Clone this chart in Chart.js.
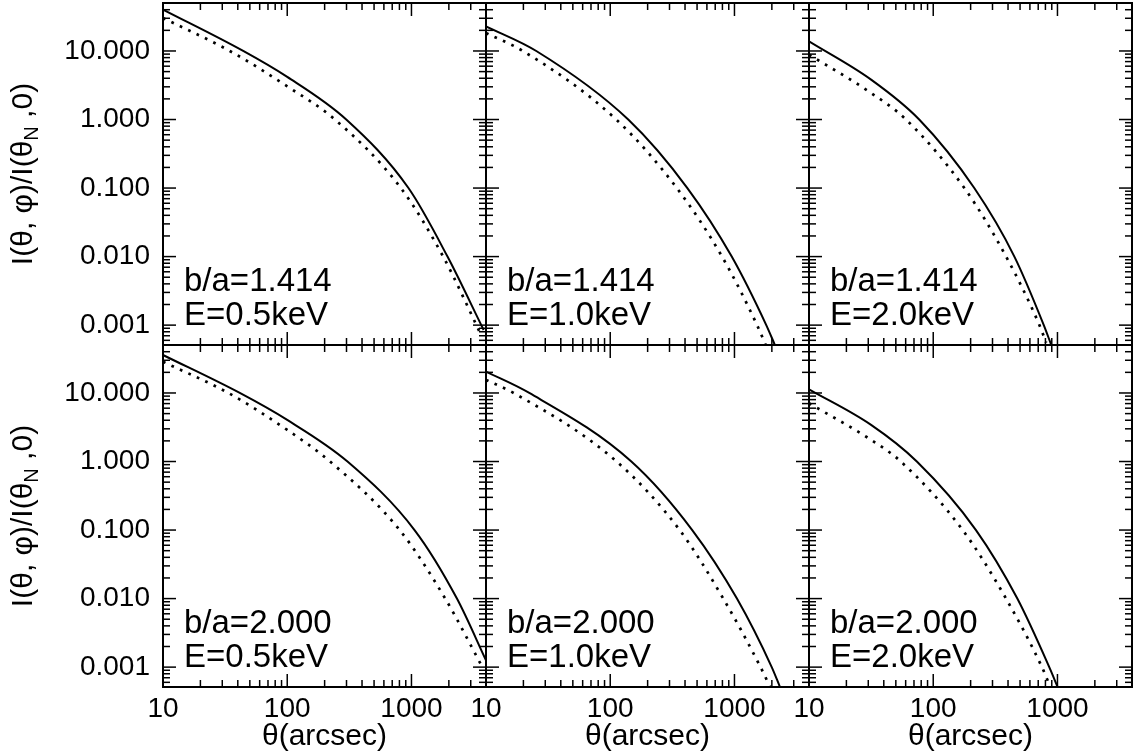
<!DOCTYPE html>
<html><head><meta charset="utf-8">
<script src="https://cdn.jsdelivr.net/npm/chart.js@4/dist/chart.umd.min.js"></script>
<style>
html,body{margin:0;padding:0;background:#fff;}
#wrap{position:relative;width:1133px;height:756px;overflow:hidden;background:#fff;}
#wrap canvas{position:absolute;left:0;top:0;}
</style></head><body><div id="wrap"></div>
<script>
// ---- labels ----
const ratioLabels = ['b/a=1.414', 'b/a=2.000'];
const energyLabels = ['E=0.5keV', 'E=1.0keV', 'E=2.0keV'];
const xTickValues = [10, 100, 1000];
const xTickLabels = ['10', '100', '1000'];
const yTickValues = [0.001, 0.01, 0.1, 1, 10];
const yTickLabels = ['0.001', '0.010', '0.100', '1.000', '10.000'];
const xTitle = 'θ(arcsec)';

// ---- data: theta (arcsec) and I(theta,phi)/I(thetaN,0) ----
// row 1: b/a = 1.414
const p1SolidTheta = [10, 44.2, 100, 298.5, 946, 1950, 3811];
const p1Solid      = [40.1, 10, 4.18, 1, 0.1, 0.01, 0.00085];
const p1DotTheta   = [10, 34.5, 100, 242, 822, 1799, 3690];
const p1Dot        = [30.3, 10, 3.05, 1, 0.1, 0.01, 0.00068];

const p2SolidTheta = [10, 25.4, 139.6, 417.8, 950.6, 1803, 2109];
const p2Solid      = [22.9, 10, 1, 0.1, 0.01, 0.001, 0.00052];
const p2DotTheta   = [10, 19.8, 111.7, 343.6, 794.3, 1521, 1778];
const p2Dot        = [18.3, 10, 1, 0.1, 0.01, 0.001, 0.00052];

const p3SolidTheta = [10, 31.6, 77.1, 214, 450, 776, 889];
const p3Solid      = [13.8, 3.82, 1, 0.1, 0.01, 0.001, 0.00052];
const p3DotTheta   = [10, 31.6, 60.3, 178, 386, 716, 811];
const p3Dot        = [8.85, 2.44, 1, 0.1, 0.01, 0.001, 0.000555];

// row 2: b/a = 2.000
const p4SolidTheta = [10, 41.5, 100, 305.5, 1059, 2323, 4027];
const p4Solid      = [35.8, 10, 4.04, 1, 0.1, 0.01, 0.0012];
const p4DotTheta   = [10, 33.6, 100, 221, 803.5, 1871, 3690];
const p4Dot        = [28.6, 10, 2.89, 1, 0.1, 0.01, 0.00103];

const p5SolidTheta = [10, 22.3, 147.9, 457.1, 1047, 1995, 2317];
const p5Solid      = [20.5, 10, 1, 0.1, 0.01, 0.001, 0.00052];
const p5DotTheta   = [10, 16.7, 112.5, 362.2, 812.8, 1622, 1928];
const p5Dot        = [15.5, 10, 1, 0.1, 0.01, 0.001, 0.00052];

const p6SolidTheta = [10, 31.6, 73.8, 220.8, 475.3, 859, 1000];
const p6Solid      = [11.3, 3.42, 1, 0.1, 0.01, 0.001, 0.00052];
const p6DotTheta   = [10, 31.6, 54.8, 172.6, 385.5, 750, 861];
const p6Dot        = [7.08, 2.07, 1, 0.1, 0.01, 0.001, 0.000555];

const X_MIN = 10, X_MAX = Math.pow(10, 3.6);
const Y_MIN = Math.pow(10, -3.29), Y_MAX = Math.pow(10, 1.70);

const panels = [
  {row:0, col:0, st:p1SolidTheta, s:p1Solid, dt:p1DotTheta, d:p1Dot},
  {row:0, col:1, st:p2SolidTheta, s:p2Solid, dt:p2DotTheta, d:p2Dot},
  {row:0, col:2, st:p3SolidTheta, s:p3Solid, dt:p3DotTheta, d:p3Dot},
  {row:1, col:0, st:p4SolidTheta, s:p4Solid, dt:p4DotTheta, d:p4Dot},
  {row:1, col:1, st:p5SolidTheta, s:p5Solid, dt:p5DotTheta, d:p5Dot},
  {row:1, col:2, st:p6SolidTheta, s:p6Solid, dt:p6DotTheta, d:p6Dot},
];

// ---- layout ----
const W = 1133, H = 756;
const LEFT0 = 163, TOP0 = 3, PW = 323, PH = 342;
const Y_AXIS_W = 100, X_AXIS_H = 69;
const FONT = '"Liberation Sans", Arial, Helvetica, sans-serif';
Chart.defaults.font.family = FONT;
Chart.defaults.color = '#000';

function line(ctx, x1, y1, x2, y2) { ctx.beginPath(); ctx.moveTo(x1, y1); ctx.lineTo(x2, y2); ctx.stroke(); }
function zeroPad(s) { s.paddingLeft = 0; s.paddingRight = 0; s.paddingTop = 0; s.paddingBottom = 0; }

const framePlugin = {
  id: 'frame',
  afterDatasetsDraw(chart, args, o) {
    const ctx = chart.ctx, a = chart.chartArea, xs = chart.scales.x, ys = chart.scales.y;
    ctx.save();
    ctx.strokeStyle = '#000';
    ctx.lineWidth = 1.5;
    for (let e = -4; e <= 2; e++) for (let m = 1; m <= 9; m++) {
      const v = m * Math.pow(10, e);
      if (v < ys.min || v > ys.max) continue;
      const py = ys.getPixelForValue(v);
      const len = m === 1 ? 13 : 7;
      line(ctx, a.left, py, a.left + len, py);
      line(ctx, a.right, py, a.right - len, py);
    }
    for (let e = 1; e <= 3; e++) for (let m = 1; m <= 9; m++) {
      const v = m * Math.pow(10, e);
      if (v <= xs.min * 1.001 || v > xs.max) continue;
      const px = xs.getPixelForValue(v);
      const len = m === 1 ? 13 : 7;
      line(ctx, px, a.bottom, px, a.bottom - len);
      line(ctx, px, a.top, px, a.top + len);
    }
    ctx.lineWidth = 2;
    ctx.strokeRect(a.left, a.top, a.right - a.left, a.bottom - a.top);
    ctx.fillStyle = '#000';
    ctx.font = '33px ' + FONT;
    ctx.textAlign = 'left';
    ctx.textBaseline = 'alphabetic';
    ctx.fillText(o.line1, a.left + 21, a.top + 288);
    ctx.fillText(o.line2, a.left + 21, a.top + 322);
    if (o.yTitle) {
      const cy = (a.top + a.bottom) / 2;
      ctx.translate(23, cy);
      ctx.rotate(-Math.PI / 2);
      const f1 = '30px ' + FONT, f2 = '20px ' + FONT;
      const t1 = 'I(θ, φ)/I(θ', t2 = 'N', t3 = ' ,0)';
      ctx.font = f1; const w1 = ctx.measureText(t1).width, w3 = ctx.measureText(t3).width;
      ctx.font = f2; const w2 = ctx.measureText(t2).width;
      let x = -(w1 + w2 + w3) / 2;
      ctx.font = f1; ctx.fillText(t1, x, 9); x += w1;
      ctx.font = f2; ctx.fillText(t2, x, 15); x += w2;
      ctx.font = f1; ctx.fillText(t3, x, 9);
    }
    ctx.restore();
  }
};

const wrap = document.getElementById('wrap');
panels.forEach(p => {
  const L = LEFT0 + PW * p.col, T = TOP0 + PH * p.row, R = L + PW, B = T + PH;
  const showY = p.col === 0, showX = p.row === 1;
  const cv = document.createElement('canvas');
  cv.width = W; cv.height = H;
  wrap.appendChild(cv);
  new Chart(cv, {
    type: 'line',
    data: {
      datasets: [
        { data: p.st.map((t, i) => ({x: t, y: p.s[i]})), borderColor: '#000', borderWidth: 2,
          pointRadius: 0, fill: false, cubicInterpolationMode: 'monotone' },
        { data: p.dt.map((t, i) => ({x: t, y: p.d[i]})), borderColor: '#000', borderWidth: 2.7,
          borderDash: [2.7, 6.6], borderCapStyle: 'butt', pointRadius: 0, fill: false, cubicInterpolationMode: 'monotone' }
      ]
    },
    options: {
      responsive: false, animation: false, devicePixelRatio: 1,
      layout: { autoPadding: false,
                padding: { left: showY ? L - Y_AXIS_W : L, top: T, right: W - R, bottom: showX ? H - B - X_AXIS_H : H - B } },
      plugins: {
        legend: { display: false }, tooltip: { enabled: false },
        frame: { line1: ratioLabels[p.row], line2: energyLabels[p.col], yTitle: showY }
      },
      scales: {
        x: {
          type: 'logarithmic', min: X_MIN, max: X_MAX, display: showX,
          grid: { display: false, drawTicks: false }, border: { display: false },
          afterBuildTicks: s => { s.ticks = xTickValues.map(v => ({value: v})); },
          afterFit: s => { s.height = showX ? X_AXIS_H : 0; zeroPad(s); },
          ticks: { callback: (v, i) => xTickLabels[i], font: { size: 28 }, color: '#000', padding: 5,
                   maxRotation: 0, minRotation: 0, autoSkip: false },
          title: { display: true, text: xTitle, font: { size: 30 }, color: '#000', padding: { top: 0, bottom: 1 } }
        },
        y: {
          type: 'logarithmic', min: Y_MIN, max: Y_MAX, display: showY,
          grid: { display: false, drawTicks: false }, border: { display: false },
          afterBuildTicks: s => { s.ticks = yTickValues.map(v => ({value: v})); },
          afterFit: s => { s.width = showY ? Y_AXIS_W : 0; zeroPad(s); },
          ticks: { callback: (v, i) => yTickLabels[i], font: { size: 28 }, color: '#000', padding: 13, autoSkip: false }
        }
      }
    },
    plugins: [framePlugin]
  });
});
</script></body></html>
